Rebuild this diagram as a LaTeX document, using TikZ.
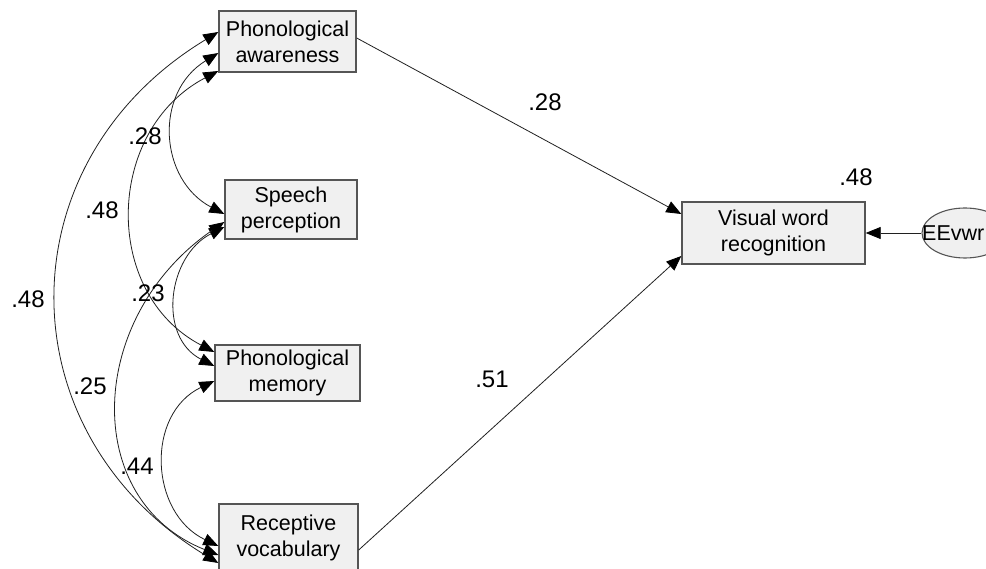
\documentclass[tikz,border=0pt]{standalone}
\usepackage{fontspec}
\setmainfont{Liberation Sans}
\usetikzlibrary{arrows.meta,calc,shapes.geometric}
\definecolor{boxfill}{HTML}{F0F0F0}
\definecolor{boxline}{HTML}{555555}
\definecolor{wire}{HTML}{202020}
\begin{document}
\begin{tikzpicture}[x=1pt,y=-1pt,
  var/.style={draw=boxline, line width=1.4pt, fill=boxfill, inner sep=0pt,
    align=center, font=\fontsize{21.5}{26}\selectfont},
  err/.style={ellipse, draw=boxline, line width=1.1pt, fill=boxfill,
    inner sep=0pt, minimum width=86pt, minimum height=50pt},
  coef/.style={font=\fontsize{24}{28}\selectfont, inner sep=0pt},
  effect/.style={draw=wire, line width=0.8pt, -{Triangle[length=15pt,width=12pt,color=black]}},
  cov/.style={draw=wire, line width=0.8pt,
    {Triangle[length=15pt,width=12pt,color=black]}-{Triangle[length=15pt,width=12pt,color=black]}},
]
\useasboundingbox (0,0) rectangle (986,569);
\clip (0,0) rectangle (986,569);

% observed variables
\node[var, minimum width=137pt, minimum height=61pt] (pa) at (287.5,41.5) {Phonological\\awareness};
\node[var, minimum width=132pt, minimum height=59pt] (sp) at (291,209.5) {Speech\\perception};
\node[var, minimum width=145pt, minimum height=56pt] (pm) at (287.5,373) {Phonological\\memory};
\node[var, minimum width=139pt, minimum height=68pt] (rv) at (288.5,538) {Receptive\\vocabulary};
\node[var, minimum width=183pt, minimum height=62pt] (vwr) at (773.5,233) {Visual word\\recognition};

% error term
\node[err] (ee) at (965,233) {};
\node[anchor=west, inner sep=0pt, font=\fontsize{21.5}{26}\selectfont] (eetext) at (922,233) {EEvwr};

% regression paths
\draw[effect] ($(pa.east)+(0,-3.5)$) -- ($(vwr.west)+(0,-19)$);
\draw[effect] ($(rv.east)+(0,12)$) -- ($(vwr.west)+(0,23)$);
\draw[effect] (ee.west) -- (vwr.east);

% covariances among predictors
\draw[cov] ($(pa.west)+(0,-9.5)$) .. controls +(-215,130) and +(-215,-130) .. ($(rv.west)+(0,25)$);
\draw[cov] ($(pa.west)+(0,11.5)$) .. controls +(-65,40) and +(-65,-34) .. ($(sp.west)+(0,4.5)$);
\draw[cov] ($(pa.west)+(0,29.5)$) .. controls +(-113,59) and +(-113,-59) .. ($(pm.west)+(0,-21)$);
\draw[cov] ($(sp.west)+(0,17.5)$) .. controls +(-57,29) and +(-57,-29) .. ($(pm.west)+(0,-7)$);
\draw[cov] ($(sp.west)+(0,12.5)$) .. controls +(-138,95) and +(-138,-55) .. ($(rv.west)+(0,17)$);
\draw[cov] ($(pm.west)+(0,8)$) .. controls +(-69,33) and +(-69,-33) .. ($(rv.west)+(0,8)$);

% coefficients
\node[coef] (b1) at (545,102) {.28};
\node[coef] (b2) at (492,379) {.51};
\node[coef] (rsq) at (856,177) {.48};
\node[coef] (r1) at (145,136) {.28};
\node[coef] (r2) at (102,210) {.48};
\node[coef] (r3) at (28,299) {.48};
\node[coef] (r4) at (148,293) {.23};
\node[coef] (r5) at (90,386) {.25};
\node[coef] (r6) at (137,466) {.44};
\end{tikzpicture}
\end{document}
